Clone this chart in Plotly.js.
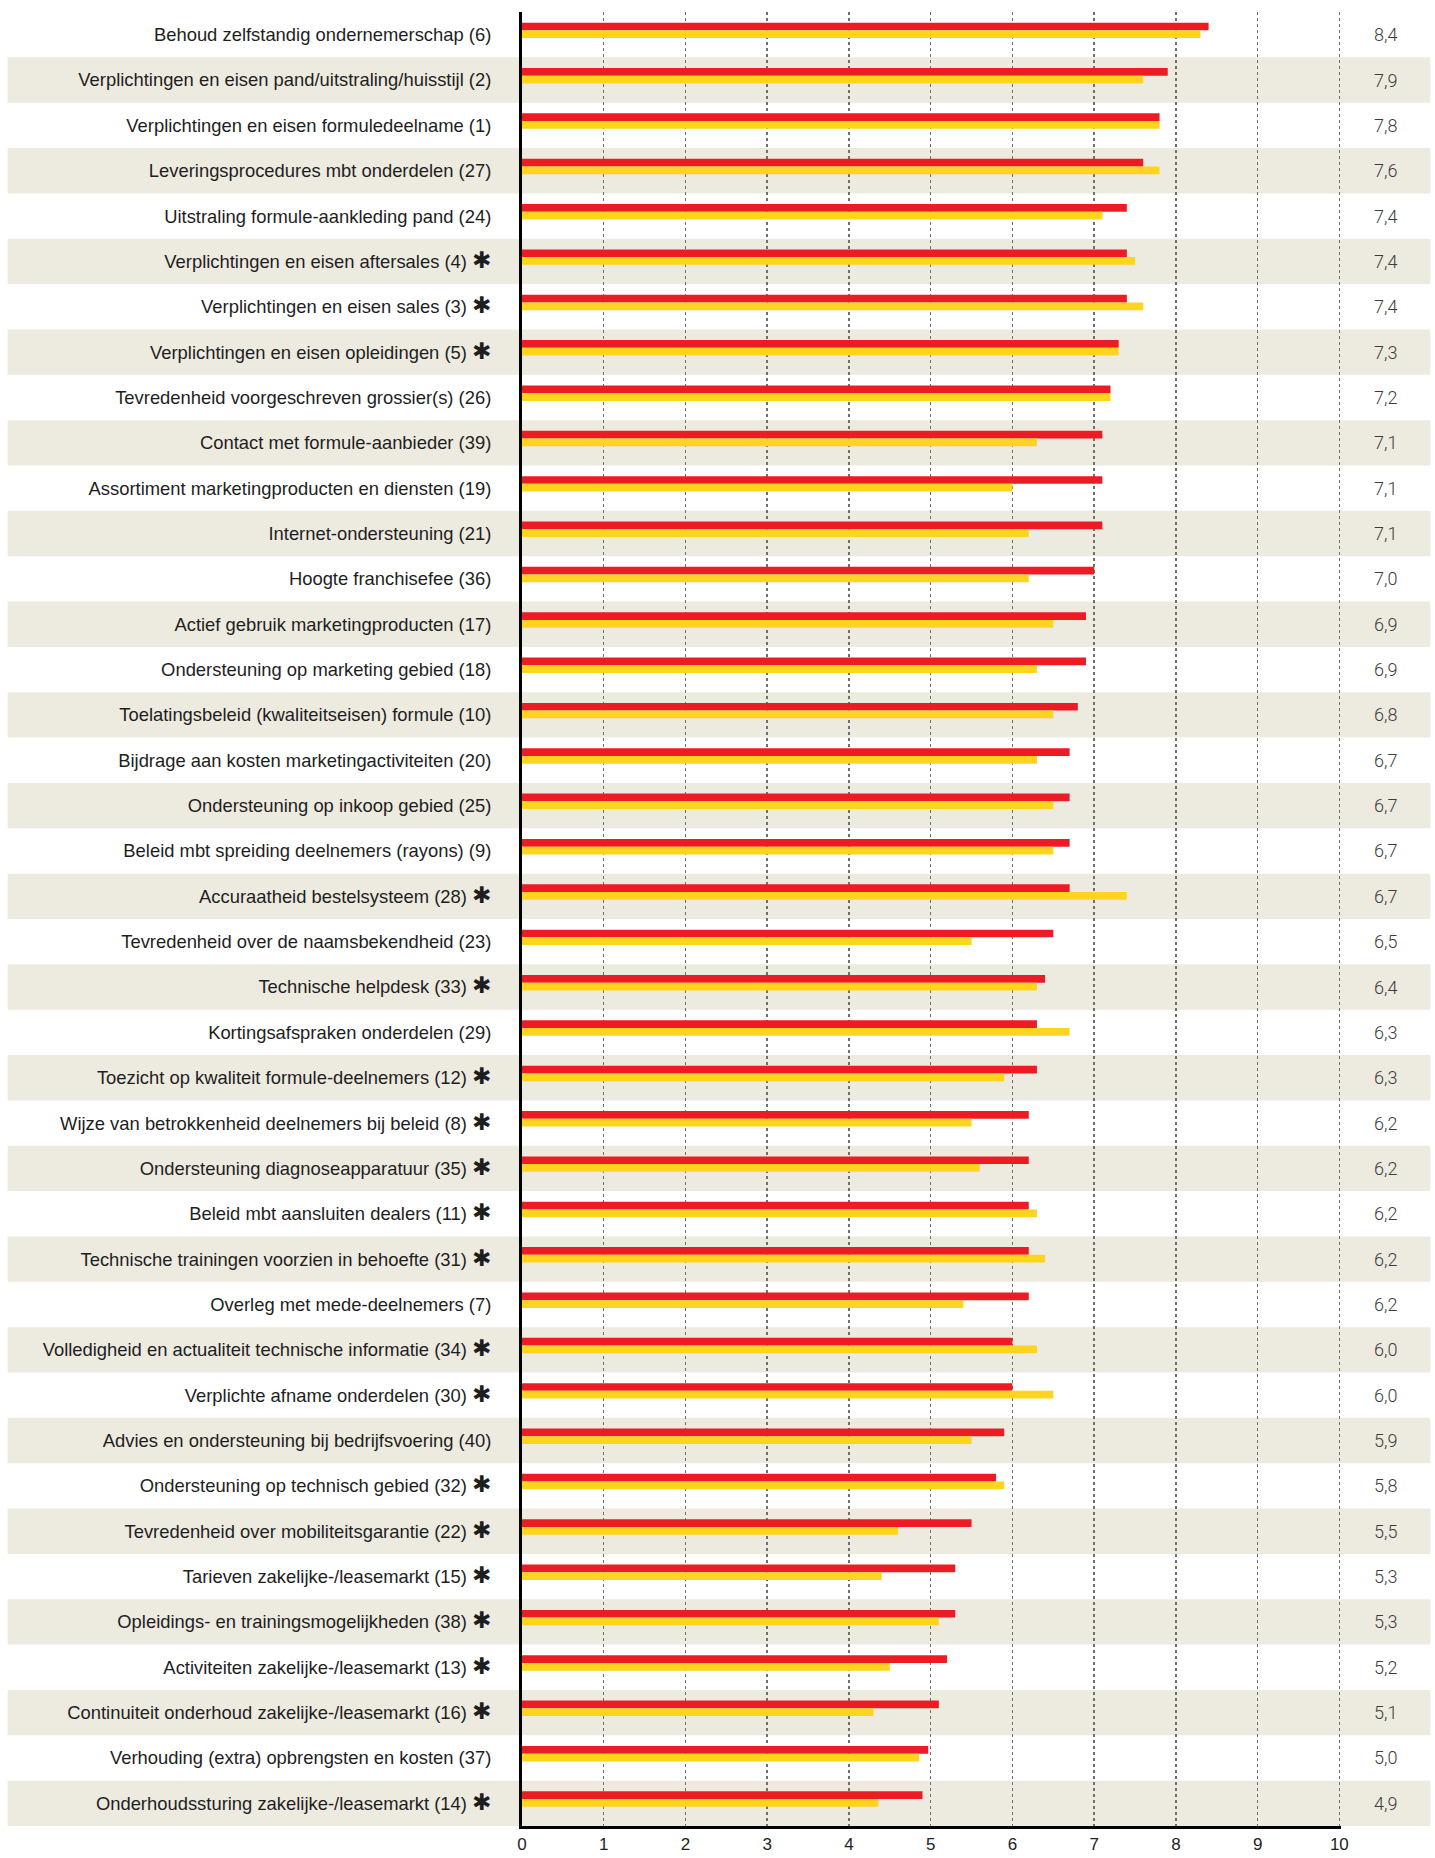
<!DOCTYPE html>
<html>
<head>
<meta charset="utf-8">
<script src="https://cdn.plot.ly/plotly-3.0.1.min.js"></script>
<style>
  html, body { margin: 0; padding: 0; background: #ffffff; }
  #chart { width: 1435px; height: 1858px; }
</style>
</head>
<body>
<div id="chart"></div>
<script>
// ---- data ----
const categories = [
  "Behoud zelfstandig ondernemerschap (6)",
  "Verplichtingen en eisen pand/uitstraling/huisstijl (2)",
  "Verplichtingen en eisen formuledeelname (1)",
  "Leveringsprocedures mbt onderdelen (27)",
  "Uitstraling formule-aankleding pand (24)",
  "Verplichtingen en eisen aftersales (4)",
  "Verplichtingen en eisen sales (3)",
  "Verplichtingen en eisen opleidingen (5)",
  "Tevredenheid voorgeschreven grossier(s) (26)",
  "Contact met formule-aanbieder (39)",
  "Assortiment marketingproducten en diensten (19)",
  "Internet-ondersteuning (21)",
  "Hoogte franchisefee (36)",
  "Actief gebruik marketingproducten (17)",
  "Ondersteuning op marketing gebied (18)",
  "Toelatingsbeleid (kwaliteitseisen) formule (10)",
  "Bijdrage aan kosten marketingactiviteiten (20)",
  "Ondersteuning op inkoop gebied (25)",
  "Beleid mbt spreiding deelnemers (rayons) (9)",
  "Accuraatheid bestelsysteem (28)",
  "Tevredenheid over de naamsbekendheid (23)",
  "Technische helpdesk (33)",
  "Kortingsafspraken onderdelen (29)",
  "Toezicht op kwaliteit formule-deelnemers (12)",
  "Wijze van betrokkenheid deelnemers bij beleid (8)",
  "Ondersteuning diagnoseapparatuur (35)",
  "Beleid mbt aansluiten dealers (11)",
  "Technische trainingen voorzien in behoefte (31)",
  "Overleg met mede-deelnemers (7)",
  "Volledigheid en actualiteit technische informatie (34)",
  "Verplichte afname onderdelen (30)",
  "Advies en ondersteuning bij bedrijfsvoering (40)",
  "Ondersteuning op technisch gebied (32)",
  "Tevredenheid over mobiliteitsgarantie (22)",
  "Tarieven zakelijke-/leasemarkt (15)",
  "Opleidings- en trainingsmogelijkheden (38)",
  "Activiteiten zakelijke-/leasemarkt (13)",
  "Continuiteit onderhoud zakelijke-/leasemarkt (16)",
  "Verhouding (extra) opbrengsten en kosten (37)",
  "Onderhoudssturing zakelijke-/leasemarkt (14)"
];
const starred = [
  0,0,0,0,0,1,1,1,0,0,
  0,0,0,0,0,0,0,0,0,1,
  0,1,0,1,1,1,1,1,0,1,
  1,0,1,1,1,1,1,1,0,1
];
const redValues = [
  8.4, 7.9, 7.8, 7.6, 7.4, 7.4, 7.4, 7.3, 7.2, 7.1,
  7.1, 7.1, 7.0, 6.9, 6.9, 6.8, 6.7, 6.7, 6.7, 6.7,
  6.5, 6.4, 6.3, 6.3, 6.2, 6.2, 6.2, 6.2, 6.2, 6.0,
  6.0, 5.9, 5.8, 5.5, 5.3, 5.3, 5.2, 5.1, 4.97, 4.9
];
const yellowValues = [
  8.3, 7.6, 7.8, 7.8, 7.1, 7.5, 7.6, 7.3, 7.2, 6.3,
  6.0, 6.2, 6.2, 6.5, 6.3, 6.5, 6.3, 6.5, 6.5, 7.4,
  5.5, 6.3, 6.7, 5.9, 5.5, 5.6, 6.3, 6.4, 5.4, 6.3,
  6.5, 5.5, 5.9, 4.6, 4.4, 5.1, 4.5, 4.3, 4.86, 4.36
];
const scoreLabels = [
  "8,4","7,9","7,8","7,6","7,4","7,4","7,4","7,3","7,2","7,1",
  "7,1","7,1","7,0","6,9","6,9","6,8","6,7","6,7","6,7","6,7",
  "6,5","6,4","6,3","6,3","6,2","6,2","6,2","6,2","6,2","6,0",
  "6,0","5,9","5,8","5,5","5,3","5,3","5,2","5,1","5,0","4,9"
];
const xTicks = [0,1,2,3,4,5,6,7,8,9,10];

// ---- build ----
const pos = categories.map((_, i) => i);
const tickText = categories.map((c, i) =>
  starred[i] ? c + " <span style=\"font-size:23px;font-family:'DejaVu Sans'\"><b>\u2731</b></span>" : c);

const RED = "#ED1C24";
const YELLOW = "#FFD41E";
const BAND = "#EDEAE0";

const traces = [
  {
    type: "bar", orientation: "h",
    x: redValues, y: pos,
    width: 0.17, offset: -0.265,
    marker: { color: RED, line: { width: 0 } },
    hoverinfo: "x"
  },
  {
    type: "bar", orientation: "h",
    x: yellowValues, y: pos,
    width: 0.17, offset: -0.095,
    marker: { color: YELLOW, line: { width: 0 } },
    hoverinfo: "x"
  }
];

const shapes = [];
pos.forEach(i => {
  if (i % 2 === 1) {
    shapes.push({
      type: "rect", layer: "below",
      xref: "paper", yref: "y",
      x0: -0.628, x1: 1.109,
      y0: i - 0.5, y1: i + 0.5,
      fillcolor: BAND, line: { width: 0 }
    });
  }
});

const annotations = pos.map(i => ({
  xref: "paper", yref: "y",
  x: 1.054, y: i,
  xanchor: "center", yanchor: "middle",
  text: scoreLabels[i],
  showarrow: false,
  font: { family: "Roboto, 'Liberation Sans', sans-serif", size: 18, color: "#3c3c3c", weight: 300 }
}));

const layout = {
  width: 1435, height: 1858,
  margin: { l: 522, r: 94, t: 12, b: 32, pad: 0 },
  paper_bgcolor: "#ffffff",
  plot_bgcolor: "rgba(0,0,0,0)",
  showlegend: false,
  barmode: "overlay",
  xaxis: {
    range: [0, 10.02],
    tickvals: xTicks,
    ticktext: xTicks.map(String),
    ticks: "",
    showgrid: true,
    gridcolor: "#6f6f6f",
    gridwidth: 1.5,
    griddash: "dot",
    zeroline: false,
    showline: true,
    linecolor: "#000000",
    linewidth: 3,
    tickfont: { family: "'Liberation Sans', Arial, sans-serif", size: 17, color: "#222222" },
    ticklabelstandoff: 1,
    fixedrange: true
  },
  yaxis: {
    range: [39.5, -0.5],
    tickvals: pos,
    ticktext: tickText,
    ticks: "",
    showgrid: false,
    zeroline: false,
    showline: true,
    linecolor: "#000000",
    linewidth: 3,
    tickfont: { family: "'Liberation Sans', Arial, sans-serif", size: 18.4, color: "#1e1e1e" },
    ticklabelstandoff: 24,
    fixedrange: true
  },
  shapes: shapes,
  annotations: annotations
};

Plotly.newPlot("chart", traces, layout, { displayModeBar: false, staticPlot: true });
</script>
</body>
</html>
